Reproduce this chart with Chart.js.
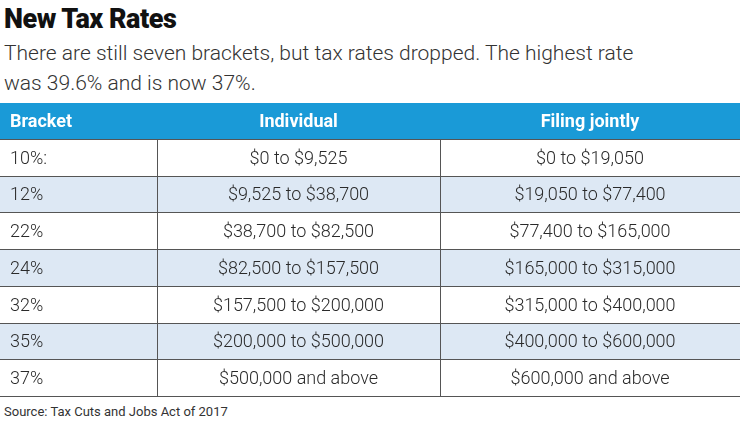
<!DOCTYPE html>
<html><head><meta charset="utf-8">
<script src="https://cdn.jsdelivr.net/npm/chart.js@4/dist/chart.umd.min.js"></script>
<style>
body{margin:0;width:740px;height:429px;background:#fff;font-family:Roboto,"Open Sans",sans-serif;color:#222;position:relative;overflow:hidden}
#t{position:absolute;left:4px;top:3px;font-size:27px;font-weight:900;letter-spacing:-0.5px;color:#111}
#s{position:absolute;left:4px;top:38px;font-size:21px;line-height:30px;color:#333;font-weight:300}
#src{position:absolute;left:4px;top:404px;font-size:13px;color:#333}
#w{position:absolute;left:0;top:103px;width:740px;height:294px}
</style></head><body>
<div id="t">New Tax Rates</div>
<div id="s">There are still seven brackets, but tax rates dropped. The highest rate<br>was 39.6% and is now 37%.</div>
<div id="w"><canvas id="c"></canvas></div>
<div id="src">Source: Tax Cuts and Jobs Act of 2017</div>
<script>
var headers = ['Bracket', 'Individual', 'Filing jointly'];
var brackets = ['10%:', '12%', '22%', '24%', '32%', '35%', '37%'];
var individual = ['$0 to $9,525', '$9,525 to $38,700', '$38,700 to $82,500', '$82,500 to $157,500', '$157,500 to $200,000', '$200,000 to $500,000', '$500,000 and above'];
var joint = ['$0 to $19,050', '$19,050 to $77,400', '$77,400 to $165,000', '$165,000 to $315,000', '$315,000 to $400,000', '$400,000 to $600,000', '$600,000 and above'];
var colEdges = [0, 157, 440, 740];

var rows = ['head'].concat(brackets);
var fills = rows.map(function(r, i){ return i == 0 ? '#1a9ad7' : (i % 2 == 0 ? '#dde8f4' : '#ffffff'); });

var textPlugin = {
  id: 'cells',
  afterDatasetsDraw: function(ch){
    var c = ch.ctx, x = ch.scales.x, y = ch.scales.y;
    var top = y.getPixelForValue(0) - (y.getPixelForValue(1) - y.getPixelForValue(0)) / 2;
    var step = y.getPixelForValue(1) - y.getPixelForValue(0);
    c.save();
    // grid lines
    c.strokeStyle = '#555'; c.lineWidth = 1;
    for (var i = 1; i <= rows.length; i++) {
      var ly = Math.round(top + step * i) - 0.5;
      c.beginPath(); c.moveTo(x.left, ly); c.lineTo(x.right, ly); c.stroke();
    }
    [1, 2].forEach(function(k){
      var lx = Math.round(x.getPixelForValue(colEdges[k])) + 0.5;
      c.beginPath(); c.moveTo(lx, top + step); c.lineTo(lx, top + step * rows.length); c.stroke();
    });
    c.textBaseline = 'middle';
    rows.forEach(function(r, i){
      var py = y.getPixelForValue(i) + 1;
      var cells = i == 0 ? headers : [brackets[i-1], individual[i-1], joint[i-1]];
      c.fillStyle = i == 0 ? '#fff' : '#2a2a2a';
      c.font = (i == 0 ? 'bold ' : '300 ') + '18px Roboto';
      cells.forEach(function(t, k){
        if (k == 0) { c.textAlign = 'left'; c.fillText(t, x.getPixelForValue(colEdges[0]) + 10, py); }
        else { c.textAlign = 'center'; c.fillText(t, x.getPixelForValue((colEdges[k] + colEdges[k+1]) / 2), py); }
      });
    });
    c.restore();
  }
};

new Chart(document.getElementById('c'), {
  type: 'bar',
  data: {
    labels: rows,
    datasets: [{
      data: rows.map(function(){ return [colEdges[0], colEdges[3]]; }),
      backgroundColor: fills,
      barPercentage: 1, categoryPercentage: 1, borderWidth: 0
    }]
  },
  options: {
    indexAxis: 'y', responsive: true, maintainAspectRatio: false, animation: false,
    layout: { padding: 0 },
    plugins: { legend: { display: false }, tooltip: { enabled: false } },
    scales: {
      x: { type: 'linear', min: 0, max: 740, display: false },
      y: { display: false }
    }
  },
  plugins: [textPlugin]
});
</script>
</body></html>
